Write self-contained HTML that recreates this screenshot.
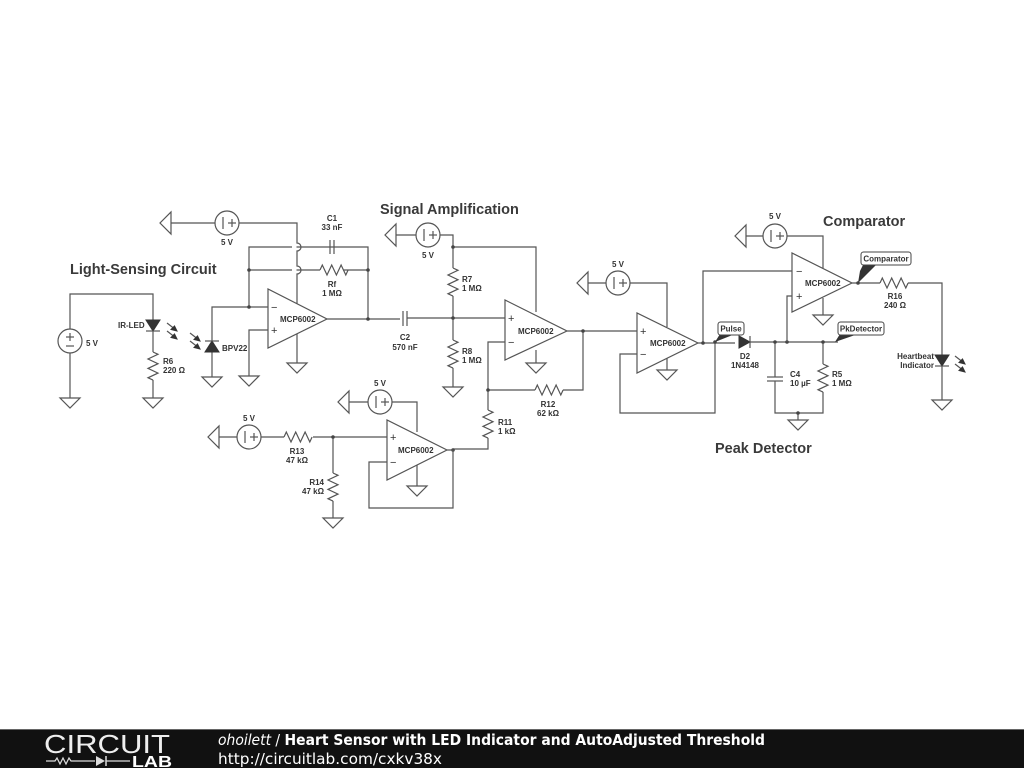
<!DOCTYPE html>
<html><head><meta charset="utf-8"><style>
html,body{margin:0;padding:0;background:#fff;}
svg{display:block}
text{font-family:"Liberation Sans",Arial,sans-serif;fill:#333;}
.l{font-size:8px;font-weight:bold;}
.t{font-size:14.5px;font-weight:bold;fill:#3a3a3a}
.w{fill:none;stroke:#555;stroke-width:1.2}
.s{fill:#fff;stroke:#555;stroke-width:1.2}
.f{fill:#333;stroke:#333;stroke-width:1}
</style></head><body>
<svg width="1024" height="768" viewBox="0 0 1024 768" xmlns="http://www.w3.org/2000/svg">
<defs>
<g id="gd"><path class="s" d="M-10,0 L10,0 L0,10 Z"/></g>
<g id="gl"><path class="s" d="M0,-11 L0,11 L-11,0 Z"/></g>
<path id="rh" class="w" d="M0,0 l2.3,-5 l4.7,10 l4.7,-10 l4.7,10 l4.7,-10 l4.7,10 l2.3,-5"/>
<g id="src"><circle class="s" r="12"/><line class="w" x1="-4" y1="-6" x2="-4" y2="6"/><line class="w" x1="1" y1="0" x2="9" y2="0"/><line class="w" x1="5" y1="-4" x2="5" y2="4"/></g>
<g id="arr"><line class="w" x1="0" y1="0" x2="9" y2="7"/><path class="f" d="M10,8 L4,6.5 L7.5,3 Z"/></g>
</defs>

<!-- ===== Light sensing ===== -->
<text class="t" x="70" y="274">Light-Sensing Circuit</text>
<g><circle class="s" cx="70" cy="341" r="12"/><line class="w" x1="66" y1="337" x2="74" y2="337"/><line class="w" x1="70" y1="333" x2="70" y2="341"/><line class="w" x1="66" y1="346" x2="74" y2="346"/></g>
<text class="l" x="86" y="346">5 V</text>
<path class="w" d="M70,329 V294 H153 V320"/>
<path class="f" d="M146,320 L160,320 L153,331 Z"/><line class="w" x1="146" y1="331" x2="160" y2="331"/>
<text class="l" x="118" y="328">IR-LED</text>
<path class="w" d="M153,331 V352"/>
<use href="#rh" transform="translate(153,352) rotate(90)"/>
<path class="w" d="M153,380 V398 M70,353 V398"/>
<use href="#gd" x="70" y="398"/><use href="#gd" x="153" y="398"/>
<text class="l" x="163" y="364">R6</text><text class="l" x="163" y="373">220 Ω</text>
<use href="#arr" transform="translate(167,323)"/><use href="#arr" transform="translate(167,331)"/>
<use href="#arr" transform="translate(190,333)"/><use href="#arr" transform="translate(190,341)"/>
<!-- BPV22 -->
<path class="w" d="M212,378 V307 H268"/>
<path class="f" d="M205,352 L219,352 L212,341 Z"/><line class="w" x1="205" y1="341" x2="219" y2="341"/>
<use href="#gd" x="212" y="377"/>
<text class="l" x="222" y="351">BPV22</text>
<path class="w" d="M268,330 H249 V376"/><use href="#gd" x="249" y="376"/>
<!-- opamp1 -->
<path class="s" d="M268,289 L268,348 L327,319 Z"/>
<text class="l" x="280" y="322">MCP6002</text>
<text x="271" y="311" style="font-size:11px">−</text><text x="271" y="334" style="font-size:11px">+</text>
<path class="w" d="M249,307 V247 H368 V319 M249,270 H320 M343,270 H368 M327,319 H400"/>
<use href="#rh" x="320" y="270"/>
<line class="s" x1="330" y1="240" x2="330" y2="254"/><line class="s" x1="334" y1="240" x2="334" y2="254"/>
<text class="l" x="332" y="221" text-anchor="middle">C1</text><text class="l" x="332" y="230" text-anchor="middle">33 nF</text>
<text class="l" x="332" y="287" text-anchor="middle">Rf</text><text class="l" x="332" y="296" text-anchor="middle">1 MΩ</text>
<circle cx="249" cy="307" r="1.8" fill="#444"/><circle cx="249" cy="270" r="1.8" fill="#444"/><circle cx="368" cy="270" r="1.8" fill="#444"/><circle cx="368" cy="319" r="1.8" fill="#444"/>
<!-- supply 1 with hops -->
<use href="#src" x="227" y="223"/>
<rect x="292" y="243" width="4.5" height="8" fill="#fff"/>
<rect x="292" y="266" width="4.5" height="8" fill="#fff"/>
<path class="w" d="M160,223 H215 M239,223 H297 V243 A4,4 0 0 1 297,251 V266 A4,4 0 0 1 297,274 V304 M297,334 V363"/>
<use href="#gl" x="171" y="223"/>
<use href="#gd" x="297" y="363"/>
<text class="l" x="227" y="245" text-anchor="middle">5 V</text>

<!-- ===== Signal amplification ===== -->
<text class="t" x="380" y="214">Signal Amplification</text>
<line class="s" x1="403" y1="311" x2="403" y2="326"/><line class="s" x1="407" y1="311" x2="407" y2="326"/>
<path class="w" d="M407,318 H505 M453,247 V268 M453,296 V340 M453,368 V387"/>
<use href="#rh" transform="translate(453,268) rotate(90)"/>
<use href="#rh" transform="translate(453,340) rotate(90)"/>
<use href="#gd" x="453" y="387"/>
<text class="l" x="405" y="340" text-anchor="middle">C2</text><text class="l" x="405" y="350" text-anchor="middle">570 nF</text>
<text class="l" x="462" y="282">R7</text><text class="l" x="462" y="291">1 MΩ</text>
<text class="l" x="462" y="354">R8</text><text class="l" x="462" y="363">1 MΩ</text>
<use href="#src" x="428" y="235"/><use href="#gl" x="396" y="235"/>
<path class="w" d="M396,235 H416 M440,235 H453 V247 H536 V312 M536,350 V363"/>
<use href="#gd" x="536" y="363"/>
<text class="l" x="428" y="258" text-anchor="middle">5 V</text>
<circle cx="453" cy="247" r="1.8" fill="#444"/><circle cx="453" cy="318" r="1.8" fill="#444"/>
<!-- opamp2 -->
<path class="s" d="M505,300 L505,360 L567,331 Z"/>
<text class="l" x="518" y="334">MCP6002</text>
<text x="508" y="322" style="font-size:11px">+</text><text x="508" y="346" style="font-size:11px">−</text>
<path class="w" d="M505,342 H488 V410 M488,438 V449 H453 M488,390 H535 M563,390 H583 V331 M567,331 H637"/>
<use href="#rh" x="535" y="390"/>
<use href="#rh" transform="translate(488,410) rotate(90)"/>
<circle cx="488" cy="390" r="1.8" fill="#444"/><circle cx="583" cy="331" r="1.8" fill="#444"/><circle cx="453" cy="450" r="1.8" fill="#444"/>
<text class="l" x="548" y="407" text-anchor="middle">R12</text><text class="l" x="548" y="416" text-anchor="middle">62 kΩ</text>
<text class="l" x="498" y="425">R11</text><text class="l" x="498" y="434">1 kΩ</text>
<!-- opamp3 buffer -->
<path class="s" d="M387,420 L387,480 L447,450 Z"/>
<text class="l" x="398" y="453">MCP6002</text>
<text x="390" y="441" style="font-size:11px">+</text><text x="390" y="466" style="font-size:11px">−</text>
<path class="w" d="M447,450 H453 V508 H369 V462 H387 M387,437 H313 M284,437 H261 M237,437 H210 M333,437 V473 M333,501 V518"/>
<use href="#rh" x="284" y="437"/><use href="#rh" transform="translate(333,473) rotate(90)"/>
<use href="#gd" x="333" y="518"/>
<circle cx="333" cy="437" r="1.8" fill="#444"/>
<use href="#src" x="249" y="437"/><use href="#gl" x="219" y="437"/>
<text class="l" x="249" y="421" text-anchor="middle">5 V</text>
<text class="l" x="297" y="454" text-anchor="middle">R13</text><text class="l" x="297" y="463" text-anchor="middle">47 kΩ</text>
<text class="l" x="324" y="485" text-anchor="end">R14</text><text class="l" x="324" y="494" text-anchor="end">47 kΩ</text>
<use href="#src" x="380" y="402"/><use href="#gl" x="349" y="402"/>
<path class="w" d="M349,402 H368 M392,402 H417 V432 M417,465 V486"/>
<use href="#gd" x="417" y="486"/>
<text class="l" x="380" y="386" text-anchor="middle">5 V</text>

<!-- opamp4 -->
<path class="s" d="M637,313 L637,373 L698,343 Z"/>
<text class="l" x="650" y="346">MCP6002</text>
<text x="640" y="335" style="font-size:11px">+</text><text x="640" y="358" style="font-size:11px">−</text>
<path class="w" d="M637,354 H620 V413 H715 V342 M698,343 H735 M750,342 H838 M703,343 V271 H792"/>
<use href="#src" x="618" y="283"/><use href="#gl" x="588" y="283"/>
<path class="w" d="M588,283 H606 M630,283 H667 V327 M667,358 V370"/>
<use href="#gd" x="667" y="370"/>
<text class="l" x="618" y="267" text-anchor="middle">5 V</text>
<circle cx="703" cy="343" r="1.8" fill="#444"/><circle cx="715" cy="342" r="1.8" fill="#444"/>

<!-- peak detector -->
<path class="f" d="M739,336 L739,348 L750,342 Z"/><line class="w" x1="750" y1="336" x2="750" y2="348"/>
<text class="l" x="745" y="359" text-anchor="middle">D2</text><text class="l" x="745" y="368" text-anchor="middle">1N4148</text>
<path class="w" d="M775,342 V377 M775,381 V413 H823 V392 M823,364 V342 M798,413 V420"/>
<line class="s" x1="767" y1="377" x2="783" y2="377"/><line class="s" x1="767" y1="381" x2="783" y2="381"/>
<use href="#rh" transform="translate(823,364) rotate(90)"/>
<use href="#gd" x="798" y="420"/>
<circle cx="775" cy="342" r="1.8" fill="#444"/><circle cx="787" cy="342" r="1.8" fill="#444"/><circle cx="823" cy="342" r="1.8" fill="#444"/><circle cx="798" cy="413" r="1.8" fill="#444"/>
<text class="l" x="790" y="377">C4</text><text class="l" x="790" y="386">10 µF</text>
<text class="l" x="832" y="377">R5</text><text class="l" x="832" y="386">1 MΩ</text>
<text class="t" x="715" y="453">Peak Detector</text>
<!-- tags -->
<path fill="#333" d="M715,342 L720,334 L735,334 Z"/>
<rect x="718" y="322" width="26" height="13" rx="2.5" fill="#fff" stroke="#444" stroke-width="1"/>
<text class="l" x="731" y="331.5" text-anchor="middle">Pulse</text>
<path fill="#333" d="M835,342 L840,334 L858,334 Z"/>
<rect x="838" y="322" width="46" height="13" rx="2.5" fill="#fff" stroke="#444" stroke-width="1"/>
<text class="l" x="861" y="331.5" text-anchor="middle">PkDetector</text>

<!-- comparator -->
<text class="t" x="823" y="226">Comparator</text>
<path class="s" d="M792,253 L792,312 L852,283 Z"/>
<text class="l" x="805" y="286">MCP6002</text>
<text x="796" y="275" style="font-size:11px">−</text><text x="796" y="300" style="font-size:11px">+</text>
<path class="w" d="M792,296 H787 V342 M852,283 H880 M908,283 H942 V355 M942,366 V400 M823,298 V315"/>
<use href="#src" x="775" y="236"/>
<path class="w" d="M746,236 H763 M787,236 H823 V268"/>
<use href="#gl" x="746" y="236"/>
<use href="#gd" x="823" y="315"/>
<text class="l" x="775" y="219" text-anchor="middle">5 V</text>
<use href="#rh" x="880" y="283"/>
<circle cx="858" cy="283" r="1.8" fill="#444"/>
<text class="l" x="895" y="299" text-anchor="middle">R16</text><text class="l" x="895" y="308" text-anchor="middle">240 Ω</text>
<path fill="#333" d="M858,283 L860,271 L863,265 L876,265 Z"/>
<rect x="861" y="252" width="50" height="13" rx="2.5" fill="#fff" stroke="#444" stroke-width="1"/>
<text class="l" x="886" y="261.5" text-anchor="middle">Comparator</text>
<path class="f" d="M935,355 L949,355 L942,366 Z"/><line class="w" x1="935" y1="366" x2="949" y2="366"/>
<use href="#gd" x="942" y="400"/>
<text class="l" x="934" y="359" text-anchor="end">Heartbeat</text><text class="l" x="934" y="368" text-anchor="end">Indicator</text>
<use href="#arr" transform="translate(955,356)"/><use href="#arr" transform="translate(955,364)"/>

<!-- footer -->
<rect x="0" y="730" width="1024" height="38" fill="#111"/>
<rect x="0" y="729" width="1024" height="1" fill="#666"/>
<text x="44" y="753" textLength="126" lengthAdjust="spacingAndGlyphs" style="font-size:26px;fill:#eee;font-weight:normal">CIRCUIT</text>
<path d="M46,761 H55 l2,-3 l3,6 l3,-6 l3,6 l3,-6 l2,3 H95" fill="none" stroke="#ddd" stroke-width="1.2"/>
<path d="M96,756 L96,766 L105,761 Z" fill="#ddd"/><line x1="106" y1="756" x2="106" y2="766" stroke="#ddd" stroke-width="1.5"/>
<line x1="106" y1="761" x2="130" y2="761" stroke="#ddd" stroke-width="1.2"/>
<text x="132" y="767" textLength="40" lengthAdjust="spacingAndGlyphs" style="font-size:16px;fill:#fff;font-weight:bold">LAB</text>
<text x="218" y="745" textLength="547" lengthAdjust="spacingAndGlyphs" style="font-size:15px;fill:#fff;font-family:'DejaVu Sans Condensed','DejaVu Sans',sans-serif"><tspan style="font-style:italic;fill:#fff">ohoilett</tspan> / <tspan style="font-weight:bold;fill:#fff">Heart Sensor with LED Indicator and AutoAdjusted Threshold</tspan></text>
<text x="218" y="764" textLength="224" lengthAdjust="spacingAndGlyphs" style="font-size:15px;fill:#fff;font-family:'DejaVu Sans Condensed','DejaVu Sans',sans-serif">http://circuitlab.com/cxkv38x</text>
</svg>
</body></html>
